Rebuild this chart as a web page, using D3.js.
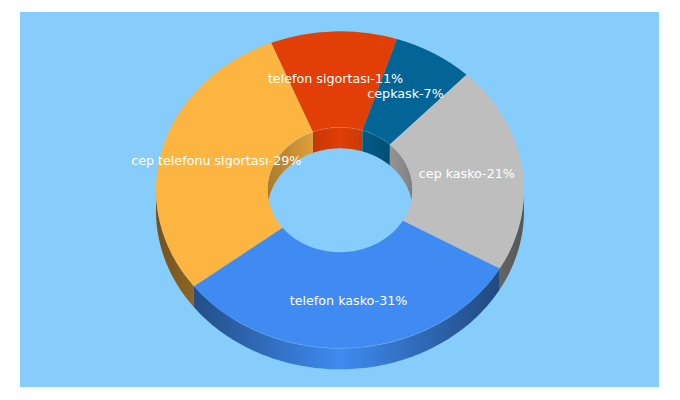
<!DOCTYPE html>
<html>
<head>
<meta charset="utf-8">
<script src="https://cdn.jsdelivr.net/npm/d3@7"></script>
<style>
  html, body { margin: 0; padding: 0; background: #fff; }
  svg { display: block; }
</style>
</head>
<body>
<svg id="chart" width="680" height="400"></svg>
<script>
// chart data, in drawing order (clockwise from the top)
const categories = ["telefon sigortası", "cepkask", "cep kasko", "telefon kasko", "cep telefonu sigortası"];
const shares = [11, 7, 21, 31, 29];
const colors = ["#E13F06", "#026595", "#BEBEBE", "#3F8BF1", "#FDB541"];

const width = 680, height = 400;
const cx = 340, cy = 189.8;
const outer_rx = 184, inner_rx = 72.5;
const squash = 158.5 / 184;
const depth = 21;
const deg = Math.PI / 180;

// labels sit a little off the centre of the ring
const label_cy = 189.4, label_squash = 0.869;

let chart = d3.select("#chart");
let defs = chart.append("defs");

chart.append("rect")
    .attr("x", 20).attr("y", 12)
    .attr("width", 639).attr("height", 375)
    .attr("fill", "#87CDFB");

let pie = d3.pie().sort(null).value(function(d){ return d; })
    .startAngle(-22 * deg).endAngle(338 * deg);
let slices = pie(shares);

let arc = d3.arc().innerRadius(inner_rx).outerRadius(outer_rx);

function shade(color, k){
    let c = d3.rgb(color);
    return d3.rgb(c.r * k, c.g * k, c.b * k).formatHex();
}

// horizontal gradient over the wall, darker towards both ends
function wall_gradient(id, color, rx, edge){
    let g = defs.append("linearGradient")
        .attr("id", id)
        .attr("gradientUnits", "userSpaceOnUse")
        .attr("x1", cx - rx).attr("x2", cx + rx)
        .attr("y1", 0).attr("y2", 0);
    g.append("stop").attr("offset", "0%").attr("stop-color", shade(color, edge));
    g.append("stop").attr("offset", "50%").attr("stop-color", color);
    g.append("stop").attr("offset", "100%").attr("stop-color", shade(color, edge));
}

function rim_points(rx, a0, a1){
    let n = Math.max(2, Math.ceil((a1 - a0) / deg));
    return d3.range(n + 1).map(function(i){
        let a = a0 + (a1 - a0) * i / n;
        return [cx + rx * Math.sin(a), cy - rx * squash * Math.cos(a)];
    });
}

// band between the rim of an ellipse and the same rim moved down by depth
function wall_path(rx, a0, a1){
    let rim = rim_points(rx, a0, a1);
    let low = rim.slice().reverse().map(function(p){ return [p[0], p[1] + depth]; });
    return d3.line()(rim.concat(low)) + "Z";
}

function overlap(d, lo, hi){
    let a0 = Math.max(d.startAngle, lo), a1 = Math.min(d.endAngle, hi);
    return a1 > a0 ? [a0, a1] : null;
}

// only the hole shows the inner wall
defs.append("clipPath").attr("id", "hole")
    .append("ellipse")
    .attr("cx", cx).attr("cy", cy)
    .attr("rx", inner_rx).attr("ry", inner_rx * squash);

let outer_walls = chart.append("g");
let inner_walls = chart.append("g").attr("clip-path", "url(#hole)");

slices.forEach(function(d, i){
    wall_gradient("outer" + i, colors[i], outer_rx, 0.45);
    wall_gradient("inner" + i, colors[i], inner_rx, 0.68);

    let front = overlap(d, 90 * deg, 270 * deg);
    if (front) {
        outer_walls.append("path")
            .attr("d", wall_path(outer_rx, front[0], front[1]))
            .attr("fill", "url(#outer" + i + ")");
    }
    [[-90, 90], [270, 450]].forEach(function(w){
        let back = overlap(d, w[0] * deg, w[1] * deg);
        if (back) {
            inner_walls.append("path")
                .attr("d", wall_path(inner_rx, back[0], back[1]))
                .attr("fill", "url(#inner" + i + ")");
        }
    });
});

// top face
chart.append("g")
    .attr("transform", "translate(" + cx + "," + cy + ") scale(1," + squash + ")")
    .selectAll("path")
    .data(slices).enter()
    .append("path")
        .attr("d", arc)
        .attr("fill", function(d, i){ return colors[i]; });

// faint highlight where the face meets the wall
[[outer_rx, 140, 215], [inner_rx, -45, 40]].forEach(function(r){
    chart.append("path")
        .attr("d", d3.line()(rim_points(r[0], r[1] * deg, r[2] * deg)))
        .attr("fill", "none")
        .attr("stroke", "#fff")
        .attr("stroke-opacity", 0.16)
        .attr("stroke-width", 0.8);
});

// labels
chart.append("g")
    .selectAll("text")
    .data(slices).enter()
    .append("text")
        .attr("x", function(d){ return cx + arc.centroid(d)[0]; })
        .attr("y", function(d){ return label_cy + arc.centroid(d)[1] * label_squash; })
        .attr("text-anchor", "middle")
        .attr("dominant-baseline", "central")
        .attr("font-family", "'DejaVu Sans', sans-serif")
        .attr("font-size", 12.7)
        .attr("fill", "#fff")
        .text(function(d, i){ return categories[i] + "-" + d.value + "%"; });
</script>
</body>
</html>
